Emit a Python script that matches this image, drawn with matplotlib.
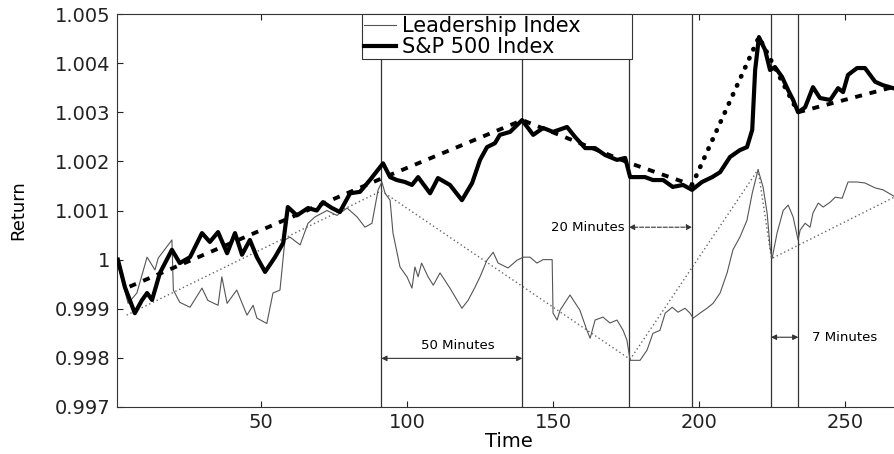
import matplotlib
matplotlib.use('Agg')
import matplotlib.pyplot as plt

# S&P 500 index (thick line)
sp_t = [1, 3.4, 6.8, 9.2, 11, 12.7, 15.4, 19.5, 22.2, 25.7,
        29.8, 32.5, 35.3, 38.4, 41.1, 43.5, 46.2, 48.6, 51.4, 54.8,
        57.6, 59.2, 62.3, 66.1, 69.1, 71.2, 74.3, 77, 80.5, 83.9,
        87.3, 91.8, 94.2, 96.5, 99.3, 101.7, 103.8, 107.9, 110.6, 114.7,
        118.8, 122.3, 125, 127.4, 130.1, 131.8, 135.3, 139.4, 143.2, 146.6,
        150, 154.8, 157.5, 161, 164.4, 167.8, 171.9, 174.7, 176.4, 181.5,
        184.2, 187.7, 191, 194.5, 197.6, 201, 204.5, 207.2, 210.6, 214,
        216.4, 218.2, 219.2, 220.5, 222.6, 224.3, 226, 228.4, 230.5, 232.2,
        233.9, 236.3, 239, 241.4, 244.9, 247.6, 249.3, 251, 254.1, 256.8,
        260.3, 263, 268.8]
sp_val = [1.0000, 0.99944, 0.99891, 0.99917, 0.99932, 0.99918, 0.99973, 1.0002, 0.99993, 1.00005,
          1.00054, 1.00036, 1.00056, 1.00013, 1.00054, 1.0001, 1.0004, 1.00005, 0.99975, 1.00005,
          1.00034, 1.00107, 1.0009, 1.00105, 1.001, 1.00117, 1.00105, 1.00097, 1.00135, 1.00138,
          1.00162, 1.00196, 1.00168, 1.00162, 1.00158, 1.00152, 1.00168, 1.00135, 1.00166, 1.00152,
          1.00121, 1.00156, 1.00203, 1.00229, 1.00237, 1.00254, 1.0026, 1.00284, 1.00254, 1.00268,
          1.0026, 1.0027, 1.0025, 1.00227, 1.00227, 1.00213, 1.00203, 1.00207, 1.00168, 1.00168,
          1.00162, 1.00162, 1.00148, 1.00152, 1.00142, 1.00158, 1.00168, 1.00178, 1.00209, 1.00223,
          1.00229, 1.00264, 1.00386, 1.00453, 1.00427, 1.00386, 1.00392, 1.00372, 1.00345, 1.00325,
          1.003, 1.0031, 1.00351, 1.00329, 1.00325, 1.00349, 1.00341, 1.00376, 1.0039, 1.0039,
          1.00362, 1.00355, 1.00345]

# Leadership index (thin line)
lead_t = [1, 4.5, 7.5, 11, 13.7, 14.8, 19.5, 20, 22.2, 25.7,
          29.8, 31.8, 35.3, 36.6, 38.4, 41.7, 45.2, 47.3, 48.6, 52,
          54.1, 56.5, 58.2, 59.9, 63.4, 66.1, 68.5, 72.6, 76, 79.5,
          82.9, 85.6, 88, 90.1, 91.4, 92.5, 94.2, 95.2, 97.6, 100,
          101.7, 102.7, 103.8, 105, 107.2, 109, 111.3, 114.7, 118.8, 120.9,
          123.3, 125, 127.4, 129.5, 131.2, 134.6, 137.7, 139.8, 142.1, 144.5,
          146.6, 149.7, 150, 151.4, 152.4, 155.8, 159.2, 161.6, 162.7, 164.4,
          167.1, 169.5, 171.9, 174, 175.3, 176.4, 179.8, 182.2, 184.2, 186.6,
          188.4, 190.8, 192.8, 195.2, 196.9, 198, 200.3, 202.7, 204.8, 207.2,
          209.6, 211.6, 214, 216.4, 218.2, 220.2, 221.9, 223.3, 224.3, 225,
          226.7, 228.8, 230.5, 232.2, 233.9, 234.6, 236.3, 238, 239, 240.8,
          242.5, 244.9, 246.6, 249, 251, 254.1, 256.8, 260.3, 263, 268.8]
lead_val = [0.9999, 0.99911, 0.99932, 1.00005, 0.99979, 1.00003, 1.0004, 0.99938, 0.99913, 0.99903,
            0.99942, 0.99917, 0.99907, 0.99965, 0.99911, 0.99938, 0.99887, 0.99907, 0.99881, 0.9987,
            0.99932, 0.99938, 1.0004, 1.00046, 1.0003, 1.00074, 1.00087, 1.001, 1.0009, 1.00105,
            1.00087, 1.00066, 1.00074, 1.00142, 1.00158, 1.00135, 1.00121, 1.00054, 0.99985, 0.99965,
            0.99942, 0.99985, 0.99965, 0.99993, 0.99965, 0.99948, 0.99973, 0.99942, 0.99901, 0.99917,
            0.99944, 0.99965, 0.99999, 1.00015, 0.99993, 0.99983, 0.99999, 1.00005, 1.00005, 0.99993,
            1.0, 1.0, 0.99891, 0.99877, 0.99897, 0.99928, 0.99897, 0.99856, 0.9984, 0.99877,
            0.99883, 0.99871, 0.99877, 0.99856, 0.99836, 0.99795, 0.99795, 0.99816, 0.9985, 0.99856,
            0.99891, 0.99903, 0.99893, 0.99901, 0.99891, 0.99881, 0.99891, 0.99901, 0.99911, 0.99932,
            0.99973, 1.0002, 1.00046, 1.0008, 1.00135, 1.00183, 1.00148, 1.00095, 1.00026, 1.00002,
            1.00054, 1.001, 1.00111, 1.00087, 1.0004, 1.0006, 1.00074, 1.00066, 1.00095, 1.00115,
            1.00107, 1.00117, 1.00127, 1.00125, 1.00158, 1.00158, 1.00156, 1.00146, 1.00142, 1.00122]

# trend lines through the turning points
sp_trend_t = [5, 91.2, 139.5, 176, 197.6, 220.5, 233.9, 268.8]
sp_trend_val = [0.99945, 1.00165, 1.00284, 1.00197, 1.00152, 1.00453, 1.003, 1.00355]
lead_trend_t = [4, 91.2, 176.4, 220.2, 224.8, 268.8]
lead_trend_val = [0.99887, 1.0014, 0.99797, 1.00183, 1.00002, 1.00133]

event_t = [91.2, 139.5, 176, 197.6, 224.6, 234]

yticks = [0.997, 0.998, 0.999, 1.0, 1.001, 1.002, 1.003, 1.004, 1.005]
ytick_labels = ['0.997', '0.998', '0.999', '1', '1.001', '1.002', '1.003', '1.004', '1.005']
xticks = [50, 100, 150, 200, 250]

fig = plt.figure(figsize=(8.94, 4.54), dpi=100)
ax = fig.add_axes([117 / 894, 47 / 454, 783 / 894, 393 / 454])

for t in event_t:
    ax.axvline(t, color='#333333', lw=0.9, zorder=1)

ax.plot(lead_trend_t, lead_trend_val, color='#666666', lw=1.0, dashes=(1, 2), zorder=2)
lead_line, = ax.plot(lead_t, lead_val, color='#555555', lw=0.8, zorder=3, label='Leadership Index')

ax.plot(sp_trend_t[:5], sp_trend_val[:5], color='black', lw=2.8, dashes=(1.8, 2.0), zorder=4)
ax.plot(sp_trend_t[4:7], sp_trend_val[4:7], color='black', lw=3.4, dashes=(0.1, 2.0),
        dash_capstyle='round', zorder=4)
ax.plot(sp_trend_t[6:], sp_trend_val[6:], color='black', lw=2.8, dashes=(1.8, 2.0), zorder=4)
sp_line, = ax.plot(sp_t, sp_val, color='black', lw=3.0, zorder=5, label='S&P 500 Index')

# time spans between turning points
arrow = dict(arrowstyle='<|-|>', color='#333333', lw=0.8, mutation_scale=8, shrinkA=0, shrinkB=0)
ax.annotate('', xy=(91.2, 0.99799), xytext=(139.5, 0.99799), arrowprops=arrow)
ax.text(117.5, 0.99826, '50 Minutes', ha='center', va='center', fontsize=9.5)
ax.annotate('', xy=(176, 1.00066), xytext=(197.6, 1.00066),
            arrowprops=dict(arrow, linestyle='--'))
ax.text(174.6, 1.00066, '20 Minutes', ha='right', va='center', fontsize=9.5)
ax.annotate('', xy=(224.6, 0.99842), xytext=(234, 0.99842), arrowprops=arrow)
ax.text(238.7, 0.99842, '7 Minutes', ha='left', va='center', fontsize=9.5)

ax.set_xlim(0.7, 268.8)
ax.set_ylim(0.997, 1.005)
ax.set_xticks(xticks)
ax.set_yticks(yticks)
ax.set_yticklabels(ytick_labels)
ax.tick_params(direction='in', length=4, width=0.8, top=True, right=True,
               labelsize=14, colors='#222222')
ax.tick_params(axis='x', pad=4)
ax.tick_params(axis='y', pad=5)
for s in ax.spines.values():
    s.set_color('#333333')
    s.set_linewidth(0.8)

ax.set_xlabel('Time', fontsize=14, labelpad=0)
ax.set_ylabel('Return', fontsize=13)
ax.yaxis.set_label_coords(-0.115, 0.5)

leg = ax.legend(handles=[lead_line, sp_line], loc='upper left',
                bbox_to_anchor=(0.3127, 0.5, 0.345, 0.5), mode='expand',
                borderaxespad=0, fontsize=15, handlelength=1.55, handletextpad=0.3,
                borderpad=0.1, labelspacing=0.05, fancybox=False, framealpha=1)
leg.get_frame().set_edgecolor('#333333')
leg.get_frame().set_linewidth(0.8)

plt.savefig('out.png', dpi=100)
